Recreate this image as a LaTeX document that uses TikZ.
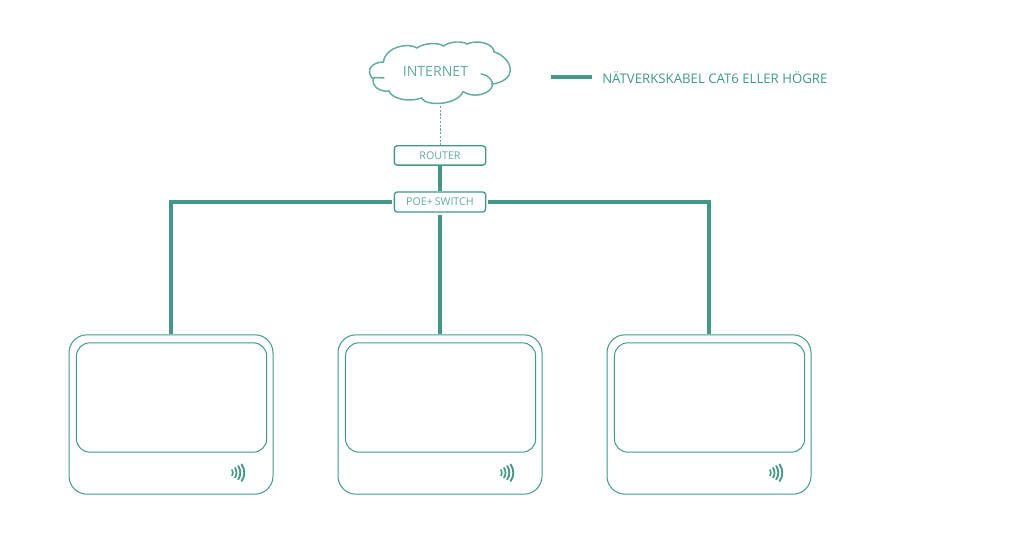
\documentclass[tikz,border=0pt]{standalone}
\usepackage{fontspec}
\setmainfont{Open Sans}
\definecolor{teal1}{HTML}{439887}
\definecolor{teal2}{HTML}{62AB9D}
\tikzset{
  x=0.75pt,y=-0.75pt,
  cable/.style={draw=teal1,line width=3pt},
  thin box/.style={draw=teal1,line width=0.75pt,rectangle,inner sep=0pt},
  netbox/.style={thin box,line width=1pt,rounded corners=2.2pt,minimum width=68.5pt,text=teal2,font=\fontsize{8pt}{9pt}\selectfont},
  outerbox/.style={thin box,rounded corners=13.5pt,minimum width=153pt,minimum height=119.5pt},
  innerbox/.style={thin box,rounded corners=10pt,minimum width=142.7pt,minimum height=82pt},
  cloudline/.style={draw=teal2,line width=1.1pt,line cap=round},
  wave/.style={draw=teal1,line cap=round},
}
\newcommand{\wifi}[1]{%
  \begin{scope}[shift={(#1,0)}]
    \draw[wave,line width=1.2pt] (232,469.8) .. controls (233.2,471.5) and (233.2,474) .. (232,475.6);
    \draw[wave,line width=1.3pt] (235,467.8) .. controls (237,470.5) and (237,475) .. (235,477.6);
    \draw[wave,line width=1.4pt] (238.2,466) .. controls (241,470) and (241,475.6) .. (238.2,479.4);
    \draw[wave,line width=1.4pt] (241.6,464.4) .. controls (245.2,469.4) and (245.2,476.4) .. (241.6,481);
  \end{scope}}
\begin{document}
\begin{tikzpicture}
\useasboundingbox (0,0) rectangle (1020,534);
% cloud
\draw[cloudline] (383.5,62)
  .. controls (385,47) and (408,42) .. (417,48)
  .. controls (425,42) and (440,43) .. (443.5,46)
  .. controls (450,41) and (463,41) .. (467,44)
  .. controls (478,39) and (494,44) .. (494,52)
  .. controls (503,54) and (512,64) .. (510,72)
  .. controls (509,80) and (497,84) .. (491.5,84);
\draw[cloudline] (481,74) .. controls (490,75) and (495,84) .. (491.5,88)
  .. controls (487,95) and (472,98) .. (463,91.5);
\draw[cloudline] (463,91.5) .. controls (458,105) and (426,107) .. (421.5,98);
\draw[cloudline] (421.5,98) .. controls (408,103) and (391,98) .. (389,91);
\draw[cloudline] (389,91) .. controls (380,92) and (372,87) .. (373,78.5) .. controls (374,77) and (381,78) .. (384,78);
\draw[cloudline] (383.5,62) .. controls (375,62) and (368,67) .. (369.5,73) .. controls (370,76) and (372,78) .. (373,78.5);
\node[text=teal2,font=\fontsize{10.6pt}{12pt}\selectfont] (internet) at (435.5,71) {INTERNET};
\coordinate (cloudbottom) at (440.5,106);
% network boxes
\node[netbox,minimum height=14.5pt] (router) at (440,155.5) {ROUTER};
\node[netbox,minimum height=15pt] (switch) at (440,202) {POE+\,SWITCH};
\draw[draw=teal2,line width=0.6pt,dash pattern=on 1.6pt off 1.2pt] (cloudbottom) -- (router.north -| cloudbottom);
% devices
\foreach \n/\dx in {a/0,b/269,c/538}{
  \node[outerbox] (dev\n) at (171+\dx,414.5) {};
  \node[innerbox] (scr\n) at (171.6+\dx,397.5) {};
  \wifi{\dx}
}
% cables
\draw[cable] (router.south) -- (switch.north);
\draw[cable,shorten <=1.5pt] (switch.west) -| (deva.north);
\draw[cable,shorten <=2pt] (switch.south) -- (devb.north);
\draw[cable,shorten <=1.5pt] (switch.east) -| (devc.north);
% legend
\coordinate (lega) at (550.5,77);
\coordinate (legb) at (592,77);
\draw[cable] (lega) -- (legb);
\node[anchor=west,inner sep=0pt,text=teal1,font=\fontsize{9.9pt}{11pt}\selectfont] (legend) at (602,78) {NÄTVERKSKABEL CAT6 ELLER HÖGRE};
\end{tikzpicture}
\end{document}
